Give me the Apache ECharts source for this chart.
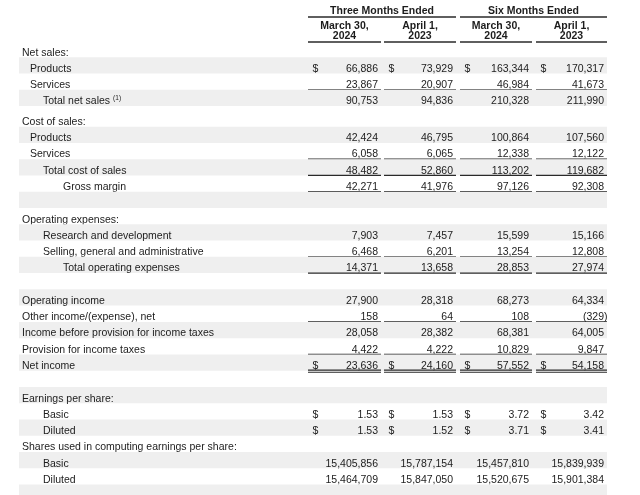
<!DOCTYPE html>
<html><head><meta charset="utf-8">
<script src="https://cdn.jsdelivr.net/npm/echarts@6/dist/echarts.min.js"></script>
<style>html,body{margin:0;padding:0;background:#fff}#c{width:640px;height:495px}</style>
</head><body><div id="c"></div>
<script>
// ---------------- DATA ----------------
const groupTitles = ["Three Months Ended", "Six Months Ended"];
const periodLine1 = ["March 30,", "April 1,", "March 30,", "April 1,"];
const periodLine2 = ["2024", "2023", "2024", "2023"];
const rowLabels = [
  "Net sales:", "Products", "Services", "Total net sales", "Cost of sales:",
  "Products", "Services", "Total cost of sales", "Gross margin", "",
  "Operating expenses:", "Research and development", "Selling, general and administrative", "Total operating expenses", "",
  "Operating income", "Other income/(expense), net", "Income before provision for income taxes", "Provision for income taxes", "Net income",
  "", "Earnings per share:", "Basic", "Diluted", "Shares used in computing earnings per share:",
  "Basic", "Diluted", ""
];
const labelNotes = [null,null,null,"(1)",null,null,null,null,null,null,null,null,null,null,null,null,null,null,null,null,null,null,null,null,null,null,null,null];
const q2024 = [null,66886,23867,90753,null,42424,6058,48482,42271,null,null,7903,6468,14371,null,27900,158,28058,4422,23636,null,null,1.53,1.53,null,15405856,15464709,null];
const q2023 = [null,73929,20907,94836,null,46795,6065,52860,41976,null,null,7457,6201,13658,null,28318,64,28382,4222,24160,null,null,1.53,1.52,null,15787154,15847050,null];
const h2024 = [null,163344,46984,210328,null,100864,12338,113202,97126,null,null,15599,13254,28853,null,68273,108,68381,10829,57552,null,null,3.72,3.71,null,15457810,15520675,null];
const h2023 = [null,170317,41673,211990,null,107560,12122,119682,92308,null,null,15166,12808,27974,null,64334,-329,64005,9847,54158,null,null,3.42,3.41,null,15839939,15901384,null];
const dollarRows = [1, 19, 22, 23];
const underlineRows = [2, 6, 7, 8, 12, 13, 16, 18];
const doubleUnderlineRows = [19];

// ---------------- LAYOUT / STYLE ----------------
const rowIndent = [0,1,1,2,0,1,1,2,3,0,0,2,2,3,0,0,0,0,0,0,0,0,2,2,0,2,2,0];
const INDENT_X = [22, 30, 43, 63];
const COL_L = [308, 384, 460, 536];
const COL_R = [381, 456, 532, 607];
const STRIPE_L = 19, STRIPE_R = 607;
const ROW_H = 16.27, TOP = 41, EXTRA = 4.3 / 16.27;
const FONT = '"Liberation Sans", Arial, Helvetica, sans-serif';
const FS = 10.5;
const TXT = '#1c1c1c', LINE = '#2a2a2a', STRIPE = '#efefef';
const cols = [q2024, q2023, h2024, h2023];

function rowPos(i) { return i + (i >= 5 ? EXTRA : 0); }
function fmt(v) {
  if (v == null) return '';
  const a = Math.abs(v);
  const s = Number.isInteger(a) ? a.toLocaleString('en-US') : a.toFixed(2);
  return v < 0 ? '(' + s + ')' : s;
}
const mctx = document.createElement('canvas').getContext('2d');
function textW(t, font) { mctx.font = font; return mctx.measureText(t).width; }

const chart = echarts.init(document.getElementById('c'), null, {renderer: 'canvas'});

function renderRow(params, api) {
  const i = api.value(0);
  const yTop = api.coord([0, rowPos(i)])[1];
  const yBot = api.coord([0, rowPos(i + 1)])[1];
  const children = [];
  if (i % 2 === 1) {
    const p0 = api.coord([STRIPE_L, rowPos(i)]);
    const p1 = api.coord([STRIPE_R, rowPos(i + 1)]);
    children.push({type: 'rect', shape: {x: p0[0], y: yTop, width: p1[0] - p0[0], height: yBot - yTop}, style: {fill: STRIPE}, silent: true});
  }
  const ty = yBot - 4.6;
  const lx = api.coord([INDENT_X[rowIndent[i]], 0])[0];
  const font = FS + 'px ' + FONT;
  children.push({type: 'text', x: lx, y: ty, style: {text: rowLabels[i], font: font, fill: TXT, align: 'left', verticalAlign: 'middle'}});
  if (labelNotes[i]) {
    const w = textW(rowLabels[i], font);
    children.push({type: 'text', x: lx + w + 3, y: ty - 3, style: {text: labelNotes[i], font: '6.5px ' + FONT, fill: TXT, align: 'left', verticalAlign: 'middle'}});
  }
  for (let c = 0; c < 4; c++) {
    const v = cols[c][i];
    const xr = api.coord([COL_R[c] - 3, 0])[0];
    if (v != null) {
      const neg = v < 0;
      children.push({type: 'text', x: neg ? xr + 3.5 : xr, y: ty, style: {text: fmt(v), font: font, fill: TXT, align: 'right', verticalAlign: 'middle'}});
    }
    if (dollarRows.indexOf(i) >= 0) {
      const xl = api.coord([COL_L[c] + 4.5, 0])[0];
      children.push({type: 'text', x: xl, y: ty, style: {text: '$', font: font, fill: TXT, align: 'left', verticalAlign: 'middle'}});
    }
    const x0 = api.coord([COL_L[c], 0])[0], x1 = api.coord([COL_R[c], 0])[0];
    if (underlineRows.indexOf(i) >= 0) {
      children.push({type: 'line', shape: {x1: x0, y1: yBot, x2: x1, y2: yBot}, style: {stroke: LINE, lineWidth: 1.3}});
    }
    if (doubleUnderlineRows.indexOf(i) >= 0) {
      children.push({type: 'line', shape: {x1: x0, y1: yBot - 0.6, x2: x1, y2: yBot - 0.6}, style: {stroke: LINE, lineWidth: 1.1}});
      children.push({type: 'line', shape: {x1: x0, y1: yBot + 1.6, x2: x1, y2: yBot + 1.6}, style: {stroke: LINE, lineWidth: 1.1}});
    }
  }
  return {type: 'group', children: children};
}

function renderHeader(params, api) {
  const c = api.value(0);
  const bfont = 'bold ' + FS + 'px ' + FONT;
  const children = [];
  const x0 = api.coord([COL_L[c], 0])[0], x1 = api.coord([COL_R[c], 0])[0];
  const xc = (x0 + x1) / 2;
  const yOf = px => api.coord([0, (px - TOP) / ROW_H])[1];
  if (c % 2 === 0) {
    const gx1 = api.coord([COL_R[c + 1], 0])[0];
    children.push({type: 'text', x: (x0 + gx1) / 2, y: yOf(11.6), style: {text: groupTitles[c / 2], font: bfont, fill: TXT, align: 'center', verticalAlign: 'middle'}});
    children.push({type: 'line', shape: {x1: x0, y1: yOf(17), x2: gx1, y2: yOf(17)}, style: {stroke: LINE, lineWidth: 1.3}});
  }
  children.push({type: 'text', x: xc, y: yOf(26.4), style: {text: periodLine1[c], font: bfont, fill: TXT, align: 'center', verticalAlign: 'middle'}});
  children.push({type: 'text', x: xc, y: yOf(36.2), style: {text: periodLine2[c], font: bfont, fill: TXT, align: 'center', verticalAlign: 'middle'}});
  children.push({type: 'line', shape: {x1: x0, y1: yOf(42), x2: x1, y2: yOf(42)}, style: {stroke: LINE, lineWidth: 1.3}});
  return {type: 'group', children: children};
}

chart.setOption({
  animation: false,
  backgroundColor: '#ffffff',
  grid: {left: 0, right: 0, top: 0, bottom: 0},
  xAxis: {type: 'value', min: 0, max: 640, show: false},
  yAxis: {type: 'value', min: -TOP / ROW_H, max: (495 - TOP) / ROW_H, inverse: true, show: false},
  series: [
    {type: 'custom', name: 'rows', renderItem: renderRow, data: rowLabels.map((_, i) => [i]), encode: {x: -1, y: 0}, silent: true},
    {type: 'custom', name: 'header', renderItem: renderHeader, data: periodLine1.map((_, i) => [i]), encode: {x: -1, y: 0}, silent: true}
  ]
});
</script></body></html>
